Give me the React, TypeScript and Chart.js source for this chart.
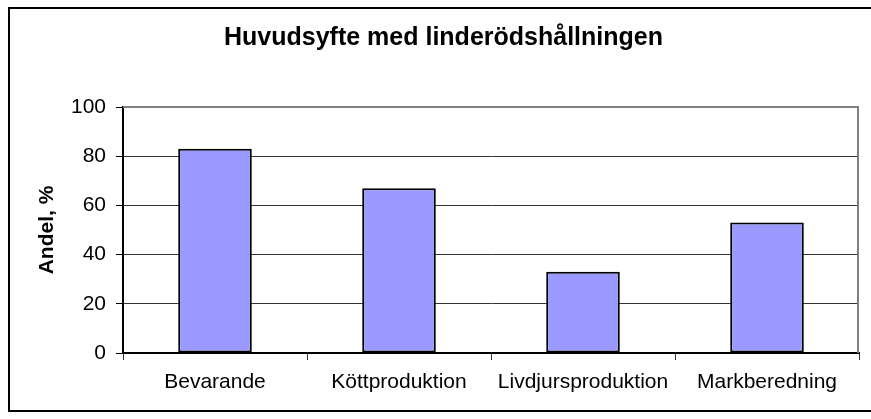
import React, { useEffect, useRef } from "react";
import { Chart, registerables } from "chart.js";

Chart.register(...registerables);

const chartTitle = "Huvudsyfte med linderödshållningen";
const yAxisTitle = "Andel, %";
const categories = ["Bevarande", "Köttproduktion", "Livdjursproduktion", "Markberedning"];
const andelValues = [83, 67, 33, 53];
const yMin = 0;
const yMax = 100;
const yStep = 20;

const FONT = "Arial, 'Liberation Sans', sans-serif";

const framePlugin = {
  id: "frame",
  afterLayout(chart: any) {
    const t = chart.titleBlock;
    if (t) {
      t.left += 10;
      t.right += 10;
    }
  },
  beforeDatasetsDraw(chart: any) {
    const { ctx, chartArea } = chart;
    ctx.save();
    ctx.strokeStyle = "#808080";
    ctx.lineWidth = 2;
    ctx.beginPath();
    ctx.moveTo(chartArea.left, chartArea.top);
    ctx.lineTo(chartArea.right - 1, chartArea.top);
    ctx.lineTo(chartArea.right - 1, chartArea.bottom);
    ctx.stroke();
    ctx.restore();
  },
  afterDraw(chart: any) {
    const { ctx } = chart;
    ctx.save();
    ctx.strokeStyle = "#000";
    ctx.lineWidth = 2;
    ctx.strokeRect(9, 8, 880, 403);
    ctx.restore();
  },
};

export default function App() {
  const ref = useRef<HTMLCanvasElement>(null);

  useEffect(() => {
    if (!ref.current) return;
    const chart = new Chart(ref.current, {
      type: "bar",
      data: {
        labels: categories,
        datasets: [
          {
            label: yAxisTitle,
            data: andelValues,
            backgroundColor: "#9999FF",
            borderColor: "#000000",
            borderWidth: 2,
            borderSkipped: false,
            categoryPercentage: 1,
            barPercentage: 0.4,
          },
        ],
      },
      plugins: [framePlugin],
      options: {
        responsive: false,
        animation: false,
        layout: {
          autoPadding: false,
          padding: { left: 8, top: 8, right: 12, bottom: 8 },
        },
        plugins: {
          legend: { display: false },
          tooltip: { enabled: false },
          title: {
            display: true,
            text: chartTitle,
            color: "#000",
            font: { family: FONT, size: 25, weight: "bold" },
            padding: { top: 14.8, bottom: 54.2 },
          },
        },
        scales: {
          x: {
            afterFit(scale: any) {
              scale.height = 58;
            },
            grid: {
              offset: true,
              drawOnChartArea: false,
              drawTicks: true,
              tickLength: 7,
              color: "#333",
              tickColor: "#333",
            },
            border: { display: true, color: "#000", width: 2 },
            ticks: {
              color: "#000",
              padding: 10,
              maxRotation: 0,
              autoSkip: false,
              font: { family: FONT, size: 21 },
            },
          },
          y: {
            min: yMin,
            max: yMax,
            afterFit(scale: any) {
              scale.width = 115;
            },
            grid: {
              drawOnChartArea: true,
              drawTicks: true,
              tickLength: 7,
              color: "#333",
              tickColor: "#000",
            },
            border: { display: true, color: "#000", width: 2 },
            ticks: {
              stepSize: yStep,
              color: "#000",
              padding: 10,
              font: { family: FONT, size: 21 },
            },
            title: {
              display: true,
              text: yAxisTitle,
              color: "#000",
              font: { family: FONT, size: 21, weight: "bold" },
              padding: { top: 26.4, bottom: 0 },
            },
          },
        },
      },
    });
    return () => chart.destroy();
  }, []);

  return (
    <div style={{ position: "fixed", left: 0, top: 0, width: 871, height: 419, background: "#fff" }}>
      <canvas ref={ref} width={871} height={419} style={{ width: 871, height: 419, display: "block" }} />
    </div>
  );
}
